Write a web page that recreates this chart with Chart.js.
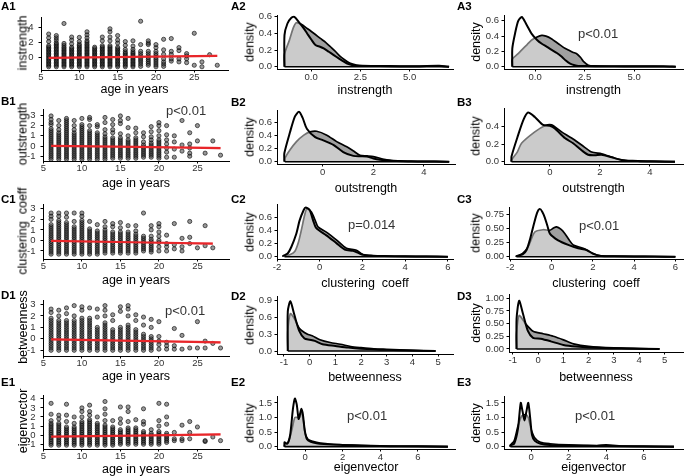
<!DOCTYPE html>
<html>
<head>
<meta charset="utf-8">
<title>Network measures by age</title>
<script src="https://cdn.jsdelivr.net/npm/chart.js@4.4.1/dist/chart.umd.min.js"></script>
<style>
  html, body { margin: 0; padding: 0; background: #fff; }
  #fig { position: relative; width: 685px; height: 476px; overflow: hidden; font-family: "Liberation Sans", Arial, sans-serif; }
  #fig canvas { position: absolute; }
  .tag { position: absolute; font-weight: bold; font-size: 11.5px; line-height: 12px; color: #000; }
  .pval { position: absolute; font-size: 13px; line-height: 13px; color: #333; white-space: nowrap; }
  .ytitle { position: absolute; font-size: 12.5px; line-height: 15px; color: #000; white-space: pre; transform: translate(-50%, -50%) rotate(-90deg); }
</style>
</head>
<body>
<div id="fig"></div>
<script>
var FONT = '"Liberation Sans", Arial, sans-serif';

/// SCATTER DATA (column 1) ///

var ages = [6, 7, 8, 9, 10, 11, 12, 13, 14, 15, 16, 17, 18, 19, 20, 21, 22, 23, 24, 25, 26, 27, 28];

var instrengthByAge = [
  [-1.25,-1.05,-0.85,-0.65,-0.45,-0.25,-0.05,0.15,0.35,0.55,0.75,0.95,1.15,1.35,1.55,2.1,2.6,3.1],
  [-1.25,-1.05,-0.85,-0.65,-0.45,-0.25,-0.05,0.15,0.35,0.55,0.75,0.95,1.15,1.35,1.55,1.75,1.95,2.3,2.6,2.9],
  [-1.25,-1.05,-0.85,-0.65,-0.45,-0.25,-0.05,0.15,0.35,0.55,0.75,0.95,1.15,1.35,1.6,1.85,4.5],
  [-1.25,-1.05,-0.85,-0.65,-0.45,-0.25,-0.05,0.15,0.35,0.55,0.75,0.95,1.15,1.35,1.8,2.3,2.7],
  [-1.25,-1.05,-0.85,-0.65,-0.45,-0.25,-0.05,0.15,0.35,0.55,0.75,0.95,1.15,1.35,1.55,1.75,2.1,2.65],
  [-1.25,-1.05,-0.85,-0.65,-0.45,-0.25,-0.05,0.15,0.35,0.55,0.75,0.95,1.15,1.35,1.55,1.75,2.0,2.2,2.6,3.0,3.4],
  [-1.25,-1.05,-0.85,-0.65,-0.45,-0.25,-0.05,0.15,0.35,0.55,0.75,0.95,1.15,1.35],
  [-1.25,-1.05,-0.85,-0.65,-0.45,-0.25,-0.05,0.15,0.35,0.55,0.75,0.95,1.15,1.35,1.55,2.2,2.7],
  [-1.25,-1.05,-0.85,-0.65,-0.45,-0.25,-0.05,0.15,0.35,0.55,0.75,0.95,1.15,1.35,1.55,2.2,2.7,3.4,3.8],
  [-1.25,-1.05,-0.85,-0.65,-0.45,-0.25,-0.05,0.15,0.35,0.55,0.75,0.95,1.15,1.35,1.9,2.3,2.9],
  [-1.25,-1.05,-0.85,-0.65,-0.45,-0.25,-0.05,0.15,0.35,0.55,0.75,1.05,1.6,2.1],
  [-1.25,-1.05,-0.85,-0.65,-0.45,-0.25,-0.05,0.15,0.35,0.55,0.75,1.05,1.5,2.2],
  [-1.2,-0.9,-0.6,-0.35,-0.1,0.2,0.5,0.8,1.7,4.8],
  [-1.05,-0.8,-0.55,-0.3,-0.05,0.2,0.5,0.8,1.7,1.9,2.2],
  [-1.25,-1.0,-0.75,-0.5,-0.25,0,0.25,0.5,0.8,1.3,1.7],
  [-1.2,-0.9,-0.6,-0.2,0.4,1.0,2.4],
  [-0.5,-0.2,0.4,0.8,2.5],
  [-0.6,-0.2,0.9,1.3],
  [-0.7,-0.2,0.2,0.5],
  [-1.05,3.2],
  [-1.25,-0.6],
  [0.35],
  [-1.05]
];

var outstrengthByAge = [
  [-1.3,-1.1,-0.9,-0.7,-0.5,-0.3,-0.1,0.1,0.3,0.5,0.7,0.9,1.1,1.3,1.5,1.7,2.1,2.3,2.6,2.95],
  [-1.3,-1.1,-0.9,-0.7,-0.5,-0.3,-0.1,0.1,0.3,0.5,0.7,0.9,1.1,1.3,1.6,2.0,2.5],
  [-1.3,-1.1,-0.9,-0.7,-0.5,-0.3,-0.1,0.1,0.3,0.5,0.7,0.9,1.1,1.3,1.5,1.7,1.9,2.1,2.3,2.5,2.7],
  [-1.3,-1.1,-0.9,-0.7,-0.5,-0.3,-0.1,0.1,0.3,0.5,0.7,0.9,1.1,1.3,1.6,2.0,2.5],
  [-1.3,-1.1,-0.9,-0.7,-0.5,-0.3,-0.1,0.1,0.3,0.5,0.7,0.9,1.1,1.3,1.5,1.7,1.9,2.1,2.7],
  [-1.3,-1.1,-0.9,-0.7,-0.5,-0.3,-0.1,0.1,0.3,0.5,0.7,0.9,1.1,1.3,1.5,2.0,2.6,2.8],
  [-1.3,-1.1,-0.9,-0.7,-0.5,-0.3,-0.1,0.1,0.3,0.5,0.7,0.9,1.1,1.3,1.9,2.1],
  [-1.3,-1.1,-0.9,-0.7,-0.5,-0.3,-0.1,0.1,0.3,0.5,0.7,0.9,1.2,1.6,2.3,2.8],
  [-1.2,-1.0,-0.8,-0.6,-0.4,-0.2,0,0.2,0.4,0.6,0.8,1.3,1.6,2.1,2.6],
  [-1.2,-1.0,-0.8,-0.6,-0.4,-0.2,0,0.2,0.4,0.6,0.8,1.2,2.2,2.5,2.95],
  [-1.2,-1.0,-0.8,-0.6,-0.4,-0.2,0,0.2,0.4,0.6,1.0,1.8,2.7],
  [-1.2,-1.0,-0.8,-0.6,-0.4,-0.2,0,0.2,0.4,0.6,0.8,1.3,1.75],
  [-1.1,-0.9,-0.7,-0.5,-0.3,-0.1,0.1,0.4,0.9,1.3],
  [-1.1,-0.9,-0.7,-0.5,-0.3,-0.1,0.1,0.3,0.6,0.9,1.4,1.9],
  [-1.2,-1.0,-0.8,-0.6,-0.4,-0.2,0,0.2,0.4,0.6,1.0,1.5,2.0,2.3],
  [-1.1,-0.6,-0.2,0.2,0.6,1.1,2.0],
  [-1.1,-0.3,0.4,1.0],
  [-0.5,0.1,2.5],
  [-1.0,-0.7,-0.2,0.2,1.3],
  [0.5,2.0],
  [-0.7],
  [0.5],
  [-0.9]
];

var clusteringByAge = [
  [-1.3,-1.1,-0.9,-0.7,-0.5,-0.3,-0.1,0.1,0.3,0.5,0.7,0.9,1.1,1.3,1.5,2.0,2.3,2.6],
  [-1.3,-1.1,-0.9,-0.7,-0.5,-0.3,-0.1,0.1,0.3,0.5,0.7,0.9,1.1,1.3,1.5,1.7,1.9,2.3,2.6],
  [-1.3,-1.1,-0.9,-0.7,-0.5,-0.3,-0.1,0.1,0.3,0.5,0.7,0.9,1.1,1.3,1.5,1.7,2.2,2.6],
  [-1.3,-1.1,-0.9,-0.7,-0.5,-0.3,-0.1,0.1,0.3,0.5,0.7,0.9,1.1,1.3,1.8,2.6],
  [-1.3,-1.1,-0.9,-0.7,-0.5,-0.3,-0.1,0.1,0.3,0.5,0.7,0.9,1.1,1.3,1.5,1.7,1.9,2.3,2.6],
  [-1.3,-1.1,-0.9,-0.7,-0.5,-0.3,-0.1,0.1,0.3,0.5,0.7,0.9,1.1,1.8],
  [-1.3,-1.1,-0.9,-0.7,-0.5,-0.3,-0.1,0.1,0.3,0.5,0.7,0.9,1.5],
  [-1.2,-1.0,-0.8,-0.6,-0.4,-0.2,0,0.2,0.4,0.6,0.8,1.0,1.3,1.8],
  [-1.2,-1.0,-0.8,-0.6,-0.4,-0.2,0,0.2,0.4,0.6,0.8,1.3,1.6],
  [-1.2,-1.0,-0.8,-0.6,-0.4,-0.2,0,0.2,0.4,0.6,0.8,1.2,1.7],
  [-1.2,-1.0,-0.8,-0.6,-0.4,-0.2,0,0.2,0.4,0.6,0.8,1.4],
  [-1.2,-1.0,-0.8,-0.6,-0.4,-0.2,0,0.2,0.4,0.6,0.9,1.4],
  [-1.0,-0.8,-0.6,-0.4,-0.2,0,0.2,0.4,2.6],
  [-1.1,-0.9,-0.7,-0.5,-0.3,-0.1,0.1,0.4,1.0,1.4],
  [-1.0,-0.6,-0.2,0,0.4,0.8,1.3,1.6],
  [-1.0,-0.6,-0.3,0.5],
  [-0.8,-0.4,1.6],
  [-1.0,-0.6,0.2],
  [-0.3,0.3,1.8],
  [-0.7],
  [-0.5,1.4],
  [-0.7],
  []
];

var betweennessByAge = [
  [-1.0,-0.8,-0.6,-0.4,-0.2,0,0.2,0.4,0.6,0.8,1.0,1.2,1.4,1.6,1.8,2.3,2.6],
  [-1.0,-0.8,-0.6,-0.4,-0.2,0,0.2,0.4,0.6,0.8,1.0,1.2,1.4,1.6,2.0,2.5],
  [-1.0,-0.8,-0.6,-0.4,-0.2,0,0.2,0.4,0.6,0.8,1.0,1.2,1.4,1.6,2.2,2.7],
  [-1.0,-0.8,-0.6,-0.4,-0.2,0,0.2,0.4,0.6,0.8,1.0,1.2,1.4,1.6,2.0,2.9],
  [-1.0,-0.8,-0.6,-0.4,-0.2,0,0.2,0.4,0.6,0.8,1.0,1.2,1.4,1.6,1.8,2.5,2.8],
  [-1.0,-0.8,-0.6,-0.4,-0.2,0,0.2,0.4,0.6,0.8,1.0,1.2,1.4,1.6,1.8,2.7],
  [-1.0,-0.8,-0.6,-0.4,-0.2,0,0.2,0.4,0.6,0.8,1.0,1.9,2.6],
  [-1.0,-0.8,-0.6,-0.4,-0.2,0,0.2,0.4,0.6,0.8,1.0,1.2,1.4,2.0,2.5,2.9],
  [-1.0,-0.8,-0.6,-0.4,-0.2,0,0.2,0.4,0.6,0.8,1.6,2.1],
  [-1.0,-0.8,-0.6,-0.4,-0.2,0,0.2,0.4,0.6,0.8,1.0,2.4,2.8],
  [-1.0,-0.8,-0.6,-0.4,-0.2,0,0.2,0.4,0.6,0.8,1.0,1.2,2.0,2.6,2.9],
  [-1.0,-0.8,-0.6,-0.4,-0.2,0,0.2,0.4,0.6,0.8,1.6,2.1],
  [-1.0,-0.8,-0.6,-0.4,-0.2,0,0.2,0.4,1.2,1.9],
  [-1.0,-0.8,-0.6,-0.4,-0.2,0,0.2,1.0,1.7],
  [-0.9,-0.5,-0.2,0.2,1.5],
  [-0.9,-0.6,-0.3],
  [-0.9,-0.6,0.9],
  [-0.9,0.3],
  [-0.8],
  [-0.8,1.5],
  [-0.8,-0.2],
  [-0.4],
  [-0.8]
];

var eigenvectorByAge = [
  [-1.1,-0.9,-0.7,-0.5,-0.3,-0.1,0.1,0.3,0.5,0.7,0.9,1.1,1.3,1.6,2.3,3.5],
  [-1.1,-0.9,-0.7,-0.5,-0.3,-0.1,0.1,0.3,0.5,0.7,0.9,1.1,1.3,1.8,2.2],
  [-1.1,-0.9,-0.7,-0.5,-0.3,-0.1,0.1,0.3,0.5,0.7,0.9,1.5,2.2,3.4],
  [-1.1,-0.9,-0.7,-0.5,-0.3,-0.1,0.1,0.3,0.5,0.7,0.9,1.3,2.0],
  [-1.1,-0.9,-0.7,-0.5,-0.3,-0.1,0.1,0.3,0.5,0.7,0.9,1.1,1.3,1.5,2.0,2.6,3.0],
  [-1.1,-0.9,-0.7,-0.5,-0.3,-0.1,0.1,0.3,0.5,0.7,0.9,1.1,1.3,1.5,1.7,2.2,2.6,3.3],
  [-1.1,-0.9,-0.7,-0.5,-0.3,-0.1,0.1,0.3,0.5,0.7,0.9,1.1,1.3,2.0],
  [-1.1,-0.9,-0.7,-0.5,-0.3,-0.1,0.1,0.3,0.5,0.7,0.9,1.1,1.6,2.3,2.9,3.7],
  [-1.1,-0.9,-0.7,-0.5,-0.3,-0.1,0.1,0.3,0.5,0.7,0.9,1.6],
  [-1.0,-0.8,-0.6,-0.4,-0.2,0,0.2,0.4,0.6,1.3,1.8,3.1],
  [-1.0,-0.8,-0.6,-0.4,-0.2,0,0.2,0.4,0.6,0.8,1.5,2.6,3.1],
  [-1.0,-0.8,-0.6,-0.4,-0.2,0,0.2,0.4,0.6,0.8,1.7],
  [-1.0,-0.8,-0.6,-0.4,-0.2,0,0.2,0.4,1.2,1.5,2.9],
  [-1.0,-0.8,-0.6,-0.4,-0.2,0,0.2,0.6],
  [-1.0,-0.8,-0.6,-0.4,-0.2,0,0.2,0.4,1.0,1.6,3.5],
  [-0.8,-0.6,-0.4,-0.2,0,0.2,1.2,2.0,3.4],
  [-0.6,-0.4,0.3],
  [-0.6,-0.4,1.1],
  [-0.4,0.3,1.5],
  [0.9],
  [-0.7,-0.6],
  [-0.2],
  [-0.6]
];

// linear fits (red line) and their confidence band, read at three ages
var fitAges = [6, 17, 28];
var fitAgesC = [6, 16.5, 27];
var instrengthFit = [-0.08, 0.06, 0.2];
var instrengthUpper = [0.0, 0.11, 0.34];
var instrengthLower = [-0.16, 0.01, 0.06];
var outstrengthFit = [0.02, -0.09, -0.2];
var outstrengthUpper = [0.09, -0.05, -0.07];
var outstrengthLower = [-0.05, -0.13, -0.33];
var clusteringFit = [-0.04, -0.17, -0.3];
var clusteringUpper = [0.03, -0.13, -0.18];
var clusteringLower = [-0.11, -0.21, -0.42];
var betweennessFit = [-0.05, -0.18, -0.31];
var betweennessUpper = [0.02, -0.14, -0.19];
var betweennessLower = [-0.12, -0.22, -0.43];
var eigenvectorFit = [-0.15, -0.04, 0.08];
var eigenvectorUpper = [-0.08, 0.0, 0.2];
var eigenvectorLower = [-0.22, -0.08, -0.04];

/// DENSITY DATA (columns 2 and 3) ///
// "a" curve = black outline, white veil; "b" curve = grey filled

var a2aX = [-1.35,-1.35,-1.2,-1.0,-0.85,-0.63,-0.4,-0.2,0.0,0.22,0.45,0.64,0.9,1.15,1.4,1.66,1.9,2.16,2.6,3.5,4.5,5.5,6.5,7.0];
var a2aY = [0,0.38,0.52,0.59,0.6,0.54,0.47,0.40,0.33,0.26,0.24,0.22,0.18,0.14,0.10,0.06,0.03,0.015,0.01,0.008,0.006,0.006,0.01,0];
var a2bX = [-1.35,-1.35,-1.1,-0.9,-0.75,-0.5,-0.2,0.15,0.47,0.75,0.98,1.25,1.49,1.75,1.99,2.3,2.6,3.5,4.5,5.5,6.5,7.0];
var a2bY = [0,0.15,0.32,0.47,0.53,0.51,0.46,0.40,0.34,0.29,0.24,0.18,0.12,0.075,0.04,0.02,0.01,0.006,0.004,0.004,0.006,0];

var a3aX = [-1.15,-1.15,-1.0,-0.85,-0.67,-0.45,-0.17,0.1,0.34,0.6,0.84,1.1,1.35,1.55,1.77,2.0,2.19,2.6,3.5,4.5,5.5,6.5,7.1];
var a3aY = [0,0.24,0.45,0.6,0.65,0.56,0.43,0.35,0.30,0.26,0.22,0.18,0.13,0.08,0.04,0.02,0.01,0.008,0.006,0.005,0.005,0.006,0];
var a3bX = [-1.15,-1.15,-0.9,-0.67,-0.4,-0.17,0.1,0.34,0.55,0.8,1.18,1.45,1.68,1.9,2.1,2.3,2.44,2.69,3.0,4.0,5.0,6.0,7.1];
var a3bY = [0,0.1,0.16,0.22,0.29,0.35,0.39,0.41,0.40,0.37,0.30,0.25,0.22,0.19,0.17,0.12,0.07,0.02,0.01,0.006,0.005,0.005,0];

var b2aX = [-1.52,-1.52,-1.3,-1.1,-0.94,-0.8,-0.63,-0.3,0.02,0.42,0.81,1.21,1.5,1.74,2.0,2.26,2.6,2.92,3.5,4.0,5.0];
var b2aY = [0,0.13,0.45,0.70,0.77,0.68,0.51,0.38,0.33,0.26,0.15,0.09,0.085,0.08,0.05,0.03,0.015,0.01,0.006,0.004,0];
var b2bX = [-1.5,-1.5,-1.3,-1.04,-0.75,-0.5,-0.24,0.16,0.55,0.95,1.2,1.47,1.75,2.0,2.53,3.19,3.8,4.4,5.0];
var b2bY = [0,0.05,0.18,0.31,0.41,0.46,0.47,0.41,0.31,0.23,0.17,0.10,0.09,0.08,0.03,0.01,0.006,0.004,0];

var b3aX = [-1.53,-1.53,-1.27,-1.05,-0.87,-0.6,-0.27,0,0.2,0.6,0.93,1.27,1.53,1.8,2.07,2.47,2.87,3.3,4.0,5.0];
var b3aY = [0,0.06,0.30,0.48,0.56,0.51,0.42,0.41,0.38,0.27,0.21,0.13,0.08,0.075,0.08,0.05,0.02,0.01,0.005,0];
var b3bX = [-1.53,-1.53,-1.3,-1.13,-0.6,-0.2,0.07,0.47,0.87,1.27,1.67,2.07,2.6,3.1,3.6,4.2,5.0];
var b3bY = [0,0.02,0.11,0.21,0.34,0.41,0.42,0.34,0.27,0.19,0.11,0.09,0.04,0.01,0.005,0.004,0];

var c2aX = [-1.72,-1.72,-1.5,-1.33,-1.1,-0.94,-0.75,-0.66,-0.47,-0.3,-0.16,0.31,0.78,1.17,1.56,1.8,2.03,2.5,3.0,4.0,5.0,6.0];
var c2aY = [0,0.01,0.05,0.15,0.35,0.56,0.72,0.76,0.72,0.55,0.44,0.33,0.21,0.11,0.09,0.06,0.03,0.015,0.01,0.006,0.004,0];
var c2bX = [-1.65,-1.65,-1.4,-1.17,-1.0,-0.86,-0.7,-0.6,-0.39,-0.2,-0.08,0.31,0.78,1.25,1.72,2.03,2.5,3.0,4.0,5.0,6.0];
var c2bY = [0,0.01,0.03,0.08,0.22,0.41,0.65,0.74,0.69,0.55,0.46,0.38,0.26,0.13,0.10,0.03,0.015,0.01,0.006,0.004,0];

var c3aX = [-1.7,-1.7,-1.4,-1.21,-1.05,-0.89,-0.7,-0.57,-0.45,-0.33,-0.2,-0.08,0.32,0.81,1.29,1.7,2.02,2.4,3.0,4.0,5.0,6.0];
var c3aY = [0,0.01,0.04,0.12,0.3,0.53,0.78,0.85,0.8,0.7,0.55,0.41,0.29,0.21,0.15,0.12,0.05,0.015,0.01,0.006,0.004,0];
var c3bX = [-1.7,-1.7,-1.4,-1.13,-0.81,-0.41,-0.08,0.1,0.24,0.45,0.65,0.85,1.05,1.53,1.94,2.3,3.0,4.0,5.0,6.0];
var c3bY = [0,0.01,0.06,0.18,0.44,0.48,0.47,0.51,0.53,0.49,0.41,0.30,0.21,0.15,0.07,0.02,0.01,0.006,0.004,0];

var d2aX = [-0.85,-0.85,-0.75,-0.6,-0.4,-0.2,0,0.2,0.5,1.0,1.5,2.0,3.0,4.0,4.9];
var d2aY = [0,0.7,0.88,0.65,0.35,0.22,0.2,0.18,0.12,0.09,0.06,0.04,0.02,0.01,0];
var d2bX = [-0.85,-0.85,-0.75,-0.6,-0.4,-0.1,0.1,0.4,0.8,1.2,1.6,2.0,2.5,3.0,4.0,4.9];
var d2bY = [0,0.35,0.66,0.58,0.4,0.3,0.27,0.2,0.15,0.12,0.08,0.06,0.04,0.03,0.01,0];

var d3aX = [-0.85,-0.85,-0.75,-0.6,-0.4,-0.2,0.1,0.5,1.0,1.5,2.5,3.5,4.8];
var d3aY = [0,0.6,0.95,0.7,0.35,0.22,0.2,0.15,0.08,0.05,0.02,0.01,0];
var d3bX = [-0.85,-0.85,-0.75,-0.5,-0.2,0.2,0.6,1.0,1.4,2.0,3.0,4.0,4.8];
var d3bY = [0,0.3,0.66,0.5,0.35,0.3,0.25,0.18,0.1,0.05,0.02,0.008,0];

var e2aX = [-1.1,-1.1,-0.95,-0.8,-0.65,-0.55,-0.45,-0.35,-0.28,-0.2,-0.12,-0.02,0.1,0.3,0.6,1.0,1.5,2.0,3.0,4.0,5.0,6.0,7.6];
var e2aY = [0,0.15,0.1,0.4,1.3,1.65,1.45,0.95,1.1,1.3,1.1,0.55,0.25,0.17,0.12,0.09,0.07,0.06,0.04,0.02,0.015,0.01,0];
var e2bX = [-1.1,-1.1,-0.9,-0.7,-0.55,-0.4,-0.3,-0.2,-0.1,0.0,0.15,0.4,0.8,1.5,2.5,3.5,5.0,7.6];
var e2bY = [0,0.05,0.15,0.6,1.0,1.0,1.0,1.2,0.9,0.45,0.25,0.18,0.12,0.08,0.05,0.03,0.015,0];

var e3aX = [-1.1,-1.1,-0.9,-0.7,-0.55,-0.45,-0.35,-0.25,-0.15,-0.05,0.05,0.2,0.5,1.0,2.0,3.0,4.0,6.0,7.6];
var e3aY = [0,0.05,0.1,0.6,1.5,1.2,0.9,1.2,1.5,1.0,0.4,0.2,0.1,0.06,0.04,0.03,0.02,0.01,0];
var e3bX = [-1.1,-1.1,-0.9,-0.7,-0.5,-0.3,-0.15,0.0,0.2,0.5,1.0,2.0,3.5,4.0,5.0,7.6];
var e3bY = [0,0.05,0.2,0.7,1.05,1.1,1.0,0.6,0.3,0.15,0.1,0.06,0.04,0.06,0.02,0];

/// TICKS ///

var ageTicks = ['5', '10', '15', '20', '25'];
var yTicksA1 = ['0', '2', '4'];
var yTicksMid = ['-1', '0', '1', '2', '3'];
var yTicksE1 = ['-1', '0', '1', '2', '3', '4'];
var xTicksA = ['0.0', '2.5', '5.0'];
var xTicksB = ['0', '2', '4'];
var xTicksC = ['-2', '0', '2', '4', '6'];
var xTicksD = ['-1', '0', '1', '2', '3', '4', '5'];
var xTicksE = ['0', '2', '4', '6'];
var densTicks02 = ['0.0', '0.2', '0.4', '0.6'];
var densTicksB3 = ['0.0', '0.2', '0.4'];
var densTicksC3 = ['0.00', '0.25', '0.50', '0.75'];
var densTicksD2 = ['0.0', '0.3', '0.6', '0.9'];
var densTicksD3 = ['0.00', '0.25', '0.50', '0.75', '1.00'];
var densTicksE = ['0.0', '0.5', '1.0', '1.5'];


/// HELPERS ///

var fig = document.getElementById('fig');

function zip(xs, ys) {
  return xs.map(function(x, i) { return {x: x, y: ys[i]}; });
}

function byAgePoints(byAge) {
  var pts = [];
  byAge.forEach(function(vals, i) {
    vals.forEach(function(v) { pts.push({x: ages[i], y: v}); });
  });
  return pts;
}

function bandShape(xs, upper, lower) {
  return zip(xs, upper).concat(zip(xs.slice().reverse(), lower.slice().reverse()));
}

function axis(min, max, labels, size, pad, title) {
  return {
    type: 'linear',
    min: min,
    max: max,
    afterBuildTicks: function(s) { s.ticks = labels.map(function(l) { return {value: parseFloat(l)}; }); },
    afterFit: function(s) { if (s.isHorizontal()) { s.height = size; } else { s.width = size; } },
    ticks: {
      autoSkip: false, maxRotation: 0, padding: pad, color: '#333',
      font: {family: FONT, size: 9.5},
      callback: function(v, i) { return labels[i]; }
    },
    grid: {drawOnChartArea: false, drawTicks: true, tickLength: 2.5, color: '#000', lineWidth: 1},
    border: {display: true, color: '#000', width: 1},
    title: title ? {display: true, text: title, color: '#000', padding: 0, font: {family: FONT, size: 12.5}} : {display: false}
  };
}

function addText(cls, text, left, top) {
  var d = document.createElement('div');
  d.className = cls;
  d.textContent = text;
  d.style.left = left + 'px';
  d.style.top = top + 'px';
  fig.appendChild(d);
}

function addPanel(p, datasets) {
  var PT = 8, PR = 8;
  var yW = p.col === 1 ? 20 : 26;
  var L = Math.round(p.L), T = Math.round(p.T), R = Math.round(p.R), B = Math.round(p.B);
  var xH = Math.round(p.xt + 7.5 - B);
  var left = L - yW, top = T - PT;
  var w = R + PR - left, h = B + xH - top;

  var cv = document.createElement('canvas');
  cv.width = w; cv.height = h;
  cv.style.left = left + 'px'; cv.style.top = top + 'px';
  cv.style.width = w + 'px'; cv.style.height = h + 'px';
  fig.appendChild(cv);

  new Chart(cv.getContext('2d'), {
    type: 'scatter',
    data: {datasets: datasets},
    options: {
      responsive: false,
      animation: false,
      events: [],
      layout: {padding: {left: 0, top: PT, right: PR, bottom: 0}},
      plugins: {legend: {display: false}, tooltip: {enabled: false}},
      scales: {
        x: axis(p.x[0], p.x[1], p.xTicks, xH, p.col === 1 ? -1 : 0, p.xTitle),
        y: axis(p.y[0], p.y[1], p.yTicks, yW, p.col === 1 ? 5 : 2.5, null)
      }
    }
  });

  var yTitleX = p.col === 1 ? 23 : (p.col === 2 ? 250 : 476);
  var d = document.createElement('div');
  d.className = 'ytitle';
  d.textContent = p.yTitle;
  d.style.left = yTitleX + 'px';
  d.style.top = ((p.T + p.B) / 2) + 'px';
  fig.appendChild(d);
}

function scatterSets(byAge, fitX, fit, upper, lower) {
  return [
    {data: zip(fitX, fit), showLine: true, borderColor: '#e8262a', borderWidth: 2.2, pointRadius: 0, tension: 0},
    {data: bandShape(fitX, upper, lower), showLine: true, fill: 'shape', backgroundColor: 'rgba(235,110,110,0.35)', borderWidth: 0, pointRadius: 0, tension: 0},
    {data: byAgePoints(byAge), pointRadius: 2.1, borderWidth: 0.8, borderColor: 'rgba(0,0,0,0.75)', backgroundColor: 'rgba(50,50,50,0.5)'}
  ];
}

function densitySets(ax, ay, bx, by) {
  return [
    {data: [{x: bx[0], y: 0}, {x: bx[bx.length - 1], y: 0}], showLine: true, borderColor: '#000', borderWidth: 1.6, pointRadius: 0},
    {data: zip(ax, ay), showLine: true, fill: 'origin', backgroundColor: 'rgba(255,255,255,0.45)', borderColor: '#000', borderWidth: 2, pointRadius: 0, tension: 0.25},
    {data: zip(bx, by), showLine: true, fill: 'origin', backgroundColor: '#a0a0a0', borderColor: '#000', borderWidth: 1.7, pointRadius: 0, tension: 0.25}
  ];
}


/// COLUMN 1: measure vs age ///

var ageAxis = [5, 29.4];
var ageAxis2 = [4.95, 29.1];

addPanel({col: 1, L: 41, T: 15, R: 228, B: 70, x: ageAxis, y: [-1.68, 5.27], xTicks: ageTicks, yTicks: yTicksA1, xt: 89.5, xTitle: 'age in years', yTitle: 'instrength'},
  scatterSets(instrengthByAge, fitAges, instrengthFit, instrengthUpper, instrengthLower));
addPanel({col: 1, L: 43, T: 106.7, R: 229, B: 160.7, x: ageAxis2, y: [-1.47, 3.56], xTicks: ageTicks, yTicks: yTicksMid, xt: 183.5, xTitle: 'age in years', yTitle: 'outstrength'},
  scatterSets(outstrengthByAge, fitAges, outstrengthFit, outstrengthUpper, outstrengthLower));
addPanel({col: 1, L: 43, T: 201.7, R: 229, B: 259.3, x: ageAxis2, y: [-1.76, 3.39], xTicks: ageTicks, yTicks: yTicksMid, xt: 280, xTitle: 'age in years', yTitle: 'clustering  coeff'},
  scatterSets(clusteringByAge, fitAgesC, clusteringFit, clusteringUpper, clusteringLower));
addPanel({col: 1, L: 43, T: 298, R: 229, B: 356, x: ageAxis2, y: [-1.5, 3.33], xTicks: ageTicks, yTicks: yTicksMid, xt: 376, xTitle: 'age in years', yTitle: 'betweenness'},
  scatterSets(betweennessByAge, fitAges, betweennessFit, betweennessUpper, betweennessLower));
addPanel({col: 1, L: 43, T: 392.7, R: 229, B: 449, x: ageAxis2, y: [-1.52, 4.34], xTicks: ageTicks, yTicks: yTicksE1, xt: 469, xTitle: 'age in years', yTitle: 'eigenvector'},
  scatterSets(eigenvectorByAge, fitAges, eigenvectorFit, eigenvectorUpper, eigenvectorLower));


/// COLUMNS 2 & 3: densities ///

addPanel({col: 2, L: 277, T: 15, R: 453, B: 69, x: [-1.73, 7.2], y: [-0.028, 0.62], xTicks: xTicksA, yTicks: densTicks02, xt: 90, xTitle: 'instrength', yTitle: 'density'},
  densitySets(a2aX, a2aY, a2bX, a2bY));
addPanel({col: 3, L: 504, T: 15, R: 683, B: 69, x: [-1.57, 7.47], y: [-0.03, 0.674], xTicks: xTicksA, yTicks: densTicks02, xt: 90.5, xTitle: 'instrength', yTitle: 'density'},
  densitySets(a3aX, a3aY, a3bX, a3bY));
addPanel({col: 2, L: 277, T: 110, R: 455, B: 164, x: [-1.81, 5.23], y: [-0.035, 0.795], xTicks: xTicksB, yTicks: densTicks02, xt: 188, xTitle: 'outstrength', yTitle: 'density'},
  densitySets(b2aX, b2aY, b2bX, b2bY));
addPanel({col: 3, L: 504, T: 108.3, R: 683, B: 164, x: [-1.83, 5.32], y: [-0.026, 0.61], xTicks: xTicksB, yTicks: densTicksB3, xt: 188, xTitle: 'outstrength', yTitle: 'density'},
  densitySets(b3aX, b3aY, b3bX, b3bY));
addPanel({col: 2, L: 277, T: 204, R: 453, B: 259, x: [-2.0, 6.24], y: [-0.035, 0.81], xTicks: xTicksC, yTicks: densTicks02, xt: 283, xTitle: 'clustering  coeff', yTitle: 'density'},
  densitySets(c2aX, c2aY, c2bX, c2bY));
addPanel({col: 3, L: 509, T: 206.7, R: 683, B: 259, x: [-2.06, 6.37], y: [-0.04, 0.88], xTicks: xTicksC, yTicks: densTicksC3, xt: 283, xTitle: 'clustering  coeff', yTitle: 'density'},
  densitySets(c3aX, c3aY, c3bX, c3bY));
addPanel({col: 2, L: 277, T: 296, R: 453, B: 354, x: [-1.27, 5.58], y: [-0.053, 0.97], xTicks: xTicksD, yTicks: densTicksD2, xt: 377, xTitle: 'betweenness', yTitle: 'density'},
  densitySets(d2aX, d2aY, d2bX, d2bY));
addPanel({col: 3, L: 509, T: 294, R: 683, B: 352, x: [-1.15, 5.73], y: [-0.06, 1.08], xTicks: xTicksD, yTicks: densTicksD3, xt: 377, xTitle: 'betweenness', yTitle: 'density'},
  densitySets(d3aX, d3aY, d3bX, d3bY));
addPanel({col: 2, L: 277, T: 396, R: 455, B: 449, x: [-1.5, 7.98], y: [-0.08, 1.73], xTicks: xTicksE, yTicks: densTicksE, xt: 467, xTitle: 'eigenvector', yTitle: 'density'},
  densitySets(e2aX, e2aY, e2bX, e2bY));
addPanel({col: 3, L: 504, T: 396, R: 683, B: 449, x: [-1.44, 8.08], y: [-0.08, 1.73], xTicks: xTicksE, yTicks: densTicksE, xt: 467, xTitle: 'eigenvector', yTitle: 'density'},
  densitySets(e3aX, e3aY, e3bX, e3bY));


/// PANEL TAGS AND P-VALUES ///

addText('tag', 'A1', 1, 0);   addText('tag', 'A2', 231, 0);   addText('tag', 'A3', 457, 0);
addText('tag', 'B1', 1, 95);  addText('tag', 'B2', 231, 96);  addText('tag', 'B3', 457, 96);
addText('tag', 'C1', 1, 193); addText('tag', 'C2', 231, 193); addText('tag', 'C3', 457, 193);
addText('tag', 'D1', 1, 289); addText('tag', 'D2', 231, 290); addText('tag', 'D3', 457, 290);
addText('tag', 'E1', 1, 376); addText('tag', 'E2', 231, 376); addText('tag', 'E3', 457, 376);

addText('pval', 'p<0.01', 578, 27);
addText('pval', 'p<0.01', 166, 104);
addText('pval', 'p=0.014', 348, 217.5);
addText('pval', 'p<0.01', 579, 218.5);
addText('pval', 'p<0.01', 165, 303.5);
addText('pval', 'p<0.01', 347, 409);
addText('pval', 'p<0.01', 575, 409);
</script>
</body>
</html>
